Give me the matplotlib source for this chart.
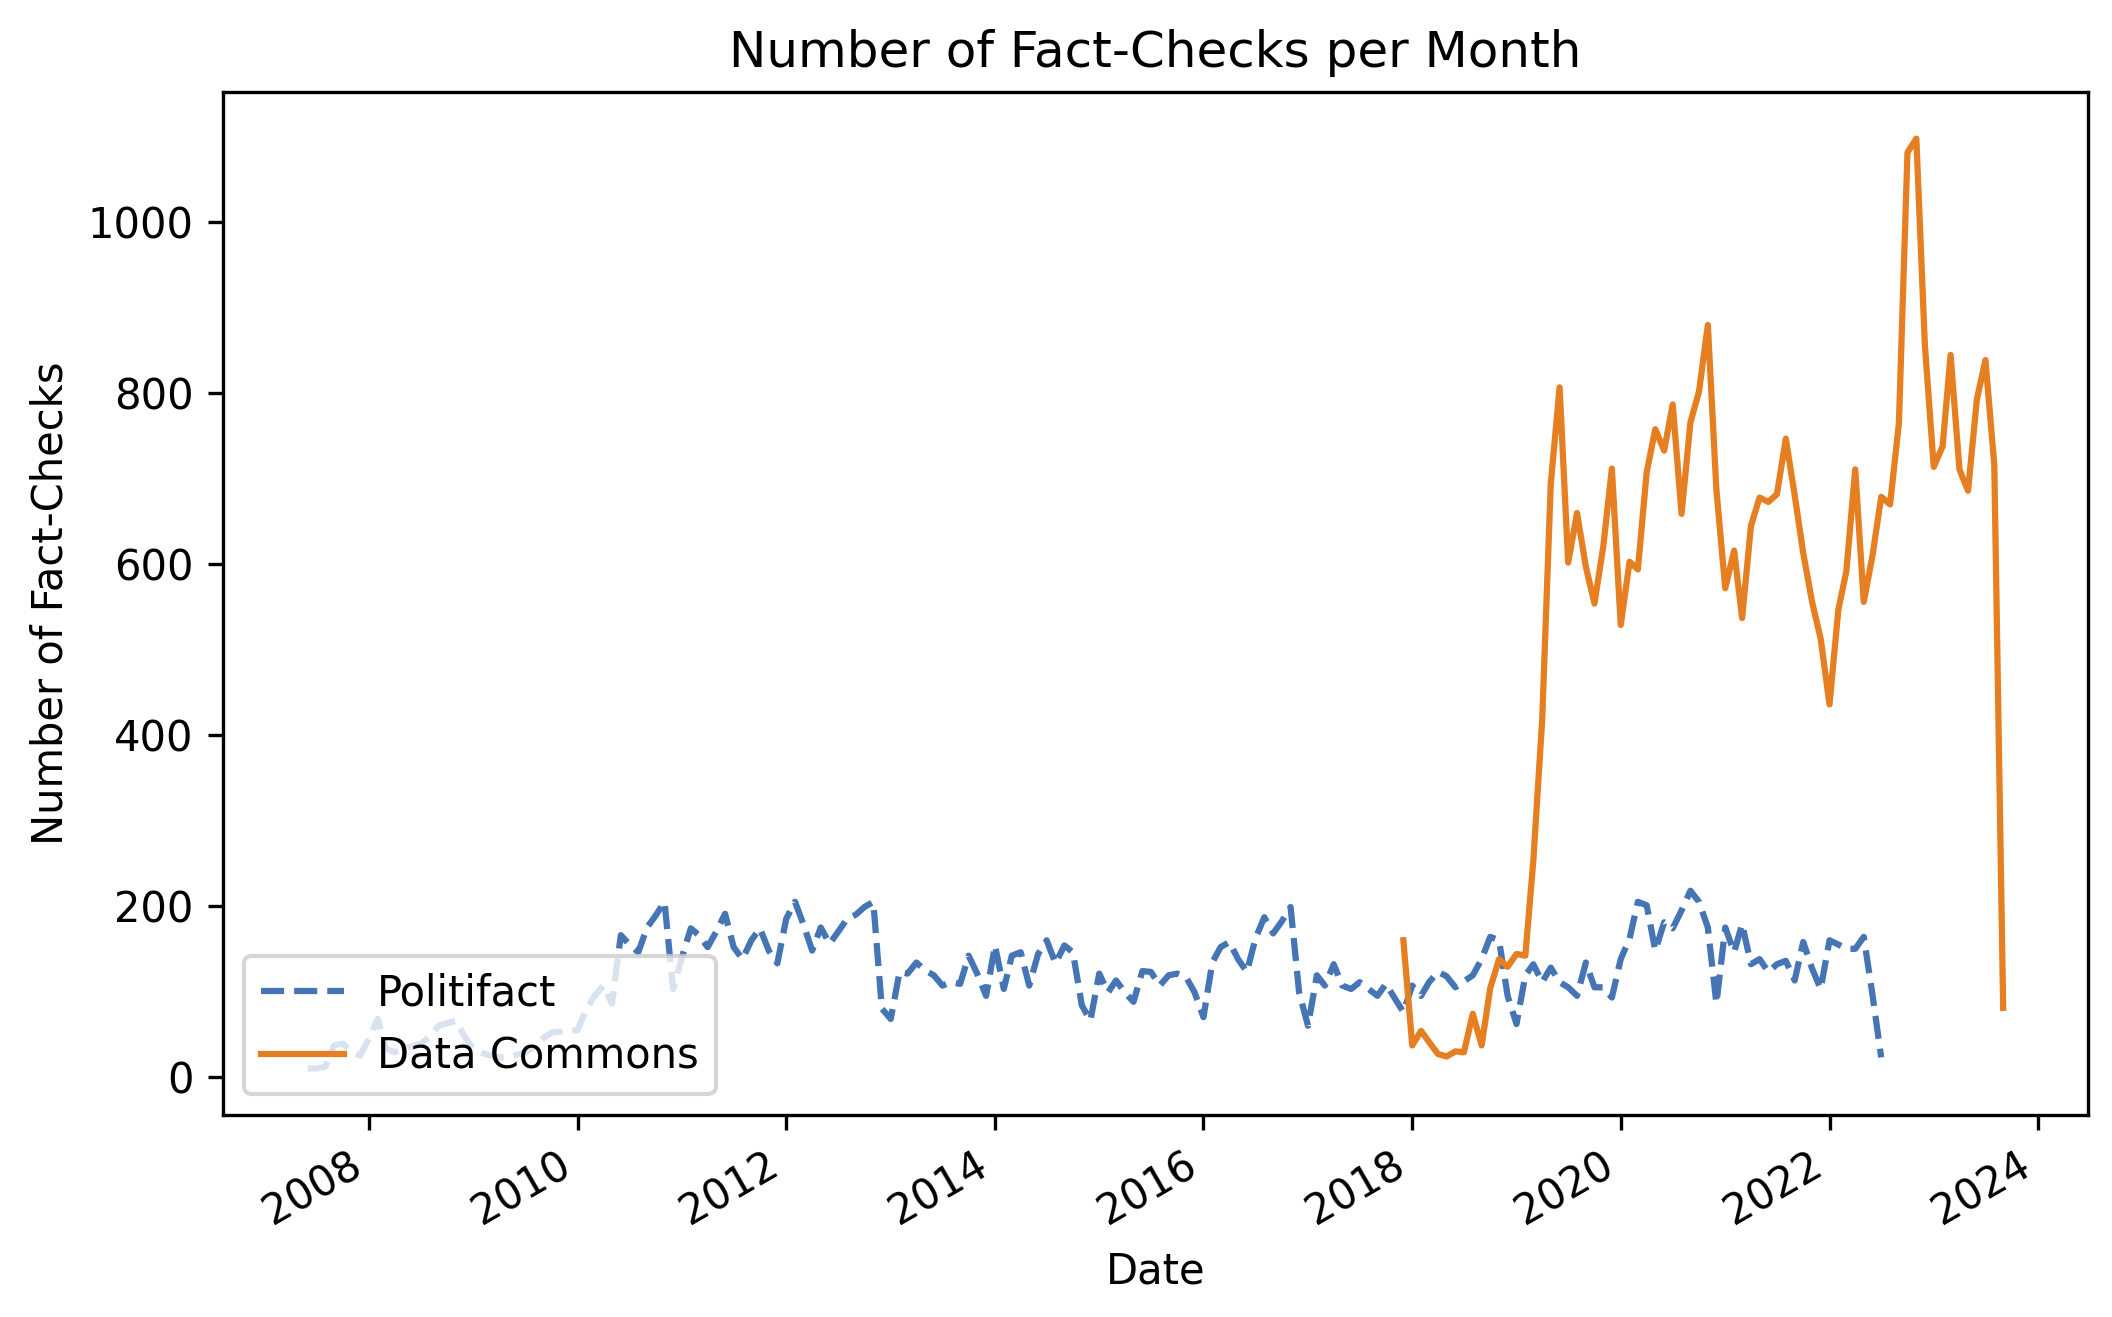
import pandas as pd
import matplotlib
matplotlib.use('Agg')
import matplotlib.pyplot as plt

# monthly fact-check counts
politifact_start = '2007-06-01'
politifact_counts = [
    10, 10, 12, 37, 39, 30, 25,                                  # 2007 (Jun-Dec)
    45, 68, 33, 29, 33, 36, 39, 47, 60, 63, 66, 47,              # 2008
    33, 28, 25, 23, 23, 26, 29, 35, 45, 52, 53, 54,              # 2009
    55, 80, 95, 107, 86, 166, 155, 146, 175, 189, 205, 103,      # 2010
    140, 174, 166, 152, 170, 191, 152, 138, 160, 174, 148, 133,  # 2011
    185, 205, 179, 148, 175, 156, 170, 185, 190, 199, 205, 80,   # 2012
    68, 123, 121, 134, 125, 119, 107, 111, 109, 142, 120, 95,    # 2013
    154, 103, 142, 146, 107, 144, 160, 133, 154, 146, 84, 66,    # 2014
    121, 99, 113, 99, 88, 124, 123, 107, 119, 121, 117, 99,      # 2015
    70, 134, 152, 158, 138, 123, 162, 187, 168, 182, 199, 99,    # 2016
    60, 119, 107, 132, 107, 103, 111, 103, 95, 109, 92, 76,      # 2017
    107, 95, 111, 123, 118, 105, 112, 119, 138, 164, 160, 95,    # 2018
    62, 119, 132, 111, 128, 111, 105, 95, 134, 105, 105, 93,     # 2019
    138, 162, 205, 201, 148, 181, 174, 195, 218, 205, 175, 86,   # 2020
    175, 146, 179, 132, 138, 123, 132, 136, 113, 158, 127, 103,  # 2021
    160, 155, 150, 150, 164, 95, 23,                             # 2022 (Jan-Jul)
]

datacommons_start = '2017-12-01'
datacommons_counts = [
    160,                                                         # 2017 (Dec)
    37, 54, 41, 27, 24, 30, 29, 74, 37, 104, 138, 129,           # 2018
    144, 142, 253, 418, 694, 807, 602, 660, 597, 554, 621, 712,  # 2019
    529, 603, 594, 708, 758, 733, 787, 659, 766, 802, 880, 687,  # 2020
    572, 616, 537, 645, 678, 673, 682, 747, 681, 613, 556, 513,  # 2021
    436, 547, 592, 711, 556, 611, 679, 670, 765, 1082, 1098, 856,  # 2022
    714, 738, 845, 711, 686, 793, 839, 716, 81,                  # 2023 (Jan-Sep)
]

pf_dates = pd.date_range(politifact_start, periods=len(politifact_counts), freq='MS')
dc_dates = pd.date_range(datacommons_start, periods=len(datacommons_counts), freq='MS')

dpi = 300
axes_box = [0.1056, 0.1534, 0.883, 0.7766]
fig = plt.figure(figsize=(2112 / dpi, 1317 / dpi), dpi=dpi)
ax = fig.add_axes(axes_box)

ax.plot(pf_dates, politifact_counts, linestyle='--', color='#4575b4', label='Politifact')
ax.plot(dc_dates, datacommons_counts, linestyle='-', color='#e67e22', label='Data Commons')

ax.set_title('Number of Fact-Checks per Month')
ax.set_xlabel('Date')
ax.set_ylabel('Number of Fact-Checks')
ax.legend(loc='lower left')
fig.autofmt_xdate()
# autofmt_xdate moves the axes, put it back
ax.set_position(axes_box)

fig.savefig('out.png', dpi=dpi)
